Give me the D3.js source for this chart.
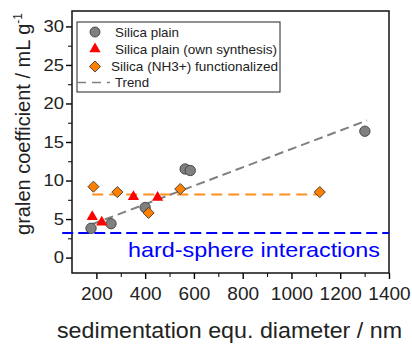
<!DOCTYPE html>
<html>
<head>
    <meta charset="utf-8">
    <title>Gralen coefficient vs diameter</title>
    <style>
        body { margin: 0; background: #fff; }
        text { font-family: "Liberation Sans", Arial, sans-serif; }
    </style>
    <script src="https://cdnjs.cloudflare.com/ajax/libs/d3/7.8.5/d3.min.js"></script>
</head>
<body>
<script>
    // data
    var plainX = [178, 260, 400, 564, 585, 1301];
    var plainY = [3.8, 4.4, 6.5, 11.5, 11.3, 16.4];
    var ownX = [183, 222, 352, 451];
    var ownY = [5.3, 4.6, 7.9, 7.8];
    var nh3X = [188, 286, 414, 544, 1116];
    var nh3Y = [9.2, 8.5, 5.8, 8.9, 8.5];
    var trendX = [180, 1310];
    var trendY = [4.3, 17.8];
    var nh3MeanX = [183, 1111];
    var nh3MeanY = [8.2, 8.2];
    var hardSphereY = 3.2;
    var xTicks = [200, 400, 600, 800, 1000, 1200, 1400];
    var yTicks = [0, 5, 10, 15, 20, 25, 30];
    var legendLabels = ["Silica plain", "Silica plain (own synthesis)", "Silica (NH3+) functionalized", "Trend"];

    var margin = {top: 11, right: 23, bottom: 72, left: 72},
        width = 412 - margin.left - margin.right,
        height = 345 - margin.top - margin.bottom;

    var x = d3.scaleLinear().domain([100, 1400]).range([0, width]);
    var y = d3.scaleLinear().domain([-2, 32]).range([height, 0]);

    var svg = d3.select("body").append("svg")
        .attr("width", 412)
        .attr("height", 345)
        .append("g")
        .attr("transform", "translate(" + margin.left + "," + margin.top + ")");

    // minor ticks
    svg.append("g")
        .attr("transform", "translate(0," + height + ")")
        .call(d3.axisBottom(x).tickValues(d3.range(300, 1400, 200)).tickSize(4).tickFormat(""))
        .call(function(g) { g.select(".domain").remove(); });
    svg.append("g")
        .call(d3.axisLeft(y).tickValues(d3.range(2.5, 30, 5)).tickSize(4).tickFormat(""))
        .call(function(g) { g.select(".domain").remove(); });

    // major axes
    var xAxis = svg.append("g")
        .attr("transform", "translate(0," + height + ")")
        .call(d3.axisBottom(x).tickValues(xTicks).tickFormat(d3.format("d")).tickSize(6).tickPadding(8));
    var yAxis = svg.append("g")
        .call(d3.axisLeft(y).tickValues(yTicks).tickFormat(d3.format("d")).tickSize(6).tickPadding(2));
    xAxis.selectAll("text").attr("font-size", 19);
    yAxis.selectAll("text").attr("font-size", 16);
    [xAxis, yAxis].forEach(function(a) {
        a.selectAll("text").attr("fill", "#222")
            .attr("font-family", "Liberation Sans, Arial, sans-serif");
        a.selectAll("line").attr("stroke-width", 1.4);
        a.select(".domain").remove();
    });
    yAxis.selectAll("text").attr("transform", "scale(1.15,1)")
        .attr("x", -8 / 1.15);

    // frame
    svg.append("rect")
        .attr("width", width).attr("height", height)
        .attr("fill", "none").attr("stroke", "#111").attr("stroke-width", 1.5);

    var line = d3.line().x(function(d) { return x(d[0]); }).y(function(d) { return y(d[1]); });

    // hard-sphere line
    svg.append("path")
        .datum([[60, hardSphereY], [1400, hardSphereY]])
        .attr("d", line)
        .attr("stroke", "#0000ff").attr("stroke-width", 2).attr("stroke-dasharray", "11,5").attr("fill", "none");

    svg.append("text")
        .attr("x", 56).attr("y", 245.5)
        .attr("font-size", 21)
        .attr("textLength", 252)
        .attr("lengthAdjust", "spacingAndGlyphs")
        .attr("fill", "#0000ff")
        .text("hard-sphere interactions");

    // NH3 mean line
    svg.append("path")
        .datum(d3.zip(nh3MeanX, nh3MeanY))
        .attr("d", line)
        .attr("stroke", "#ff9020").attr("stroke-width", 2).attr("stroke-dasharray", "11,6").attr("fill", "none");

    // trend
    svg.append("path")
        .datum(d3.zip(trendX, trendY))
        .attr("d", line)
        .attr("stroke", "#808080").attr("stroke-width", 2).attr("stroke-dasharray", "9,5").attr("fill", "none");

    var tri = d3.symbol().type(d3.symbolTriangle).size(55);
    var dia = d3.symbol().type(d3.symbolSquare).size(62);

    svg.selectAll(".plain")
        .data(d3.zip(plainX, plainY))
        .enter().append("circle")
        .attr("cx", function(d) { return x(d[0]); })
        .attr("cy", function(d) { return y(d[1]); })
        .attr("r", 5.2)
        .attr("fill", "#808080").attr("stroke", "#333").attr("stroke-width", 0.8);

    svg.selectAll(".own")
        .data(d3.zip(ownX, ownY))
        .enter().append("path")
        .attr("d", tri)
        .attr("transform", function(d) { return "translate(" + x(d[0]) + "," + y(d[1]) + ")"; })
        .attr("fill", "#ff0000");

    svg.selectAll(".nh3")
        .data(d3.zip(nh3X, nh3Y))
        .enter().append("path")
        .attr("d", dia)
        .attr("transform", function(d) { return "translate(" + x(d[0]) + "," + y(d[1]) + ") rotate(45)"; })
        .attr("fill", "#ff8000").attr("stroke", "#333").attr("stroke-width", 0.8);

    // legend
    var lg = svg.append("g").attr("transform", "translate(5,11)");
    lg.append("rect").attr("width", 203).attr("height", 70)
        .attr("fill", "#fff").attr("stroke", "#222").attr("stroke-width", 1);
    var rowY = [10, 27, 44.5, 60.5];
    lg.append("circle").attr("cx", 18).attr("cy", rowY[0]).attr("r", 5).attr("fill", "#808080").attr("stroke", "#333").attr("stroke-width", 0.8);
    lg.append("path").attr("d", tri).attr("transform", "translate(18," + rowY[1] + ")").attr("fill", "#ff0000");
    lg.append("path").attr("d", dia).attr("transform", "translate(18," + rowY[2] + ") rotate(45)").attr("fill", "#ff8000").attr("stroke", "#333").attr("stroke-width", 0.8);
    lg.append("line").attr("x1", 0).attr("x2", 33).attr("y1", rowY[3]).attr("y2", rowY[3])
        .attr("stroke", "#808080").attr("stroke-width", 1.5).attr("stroke-dasharray", "9,6");
    var legendWidths = [64, 162, 167, 34];
    lg.selectAll(".lt")
        .data(legendLabels)
        .enter().append("text")
        .attr("x", function(d, i) { return i === 2 ? 34 : 38; })
        .attr("y", function(d, i) { return rowY[i] + 4.5; })
        .attr("font-size", 13)
        .attr("textLength", function(d, i) { return legendWidths[i]; })
        .attr("lengthAdjust", "spacingAndGlyphs")
        .attr("fill", "#222")
        .text(function(d) { return d; });

    // axis titles
    svg.append("text")
        .attr("x", -15).attr("y", height + 65)
        .attr("font-size", 22)
        .attr("textLength", 345)
        .attr("lengthAdjust", "spacingAndGlyphs")
        .attr("fill", "#222")
        .text("sedimentation equ. diameter / nm");

    var yt = svg.append("text")
        .attr("transform", "translate(-42," + 113 + ") rotate(-90)")
        .attr("text-anchor", "middle")
        .attr("font-size", 20)
        .attr("fill", "#222");
    yt.append("tspan").text("gralen coefficient / mL g");
    yt.append("tspan").attr("dy", -8).attr("font-size", 12).text("-1");
</script>
</body>
</html>
